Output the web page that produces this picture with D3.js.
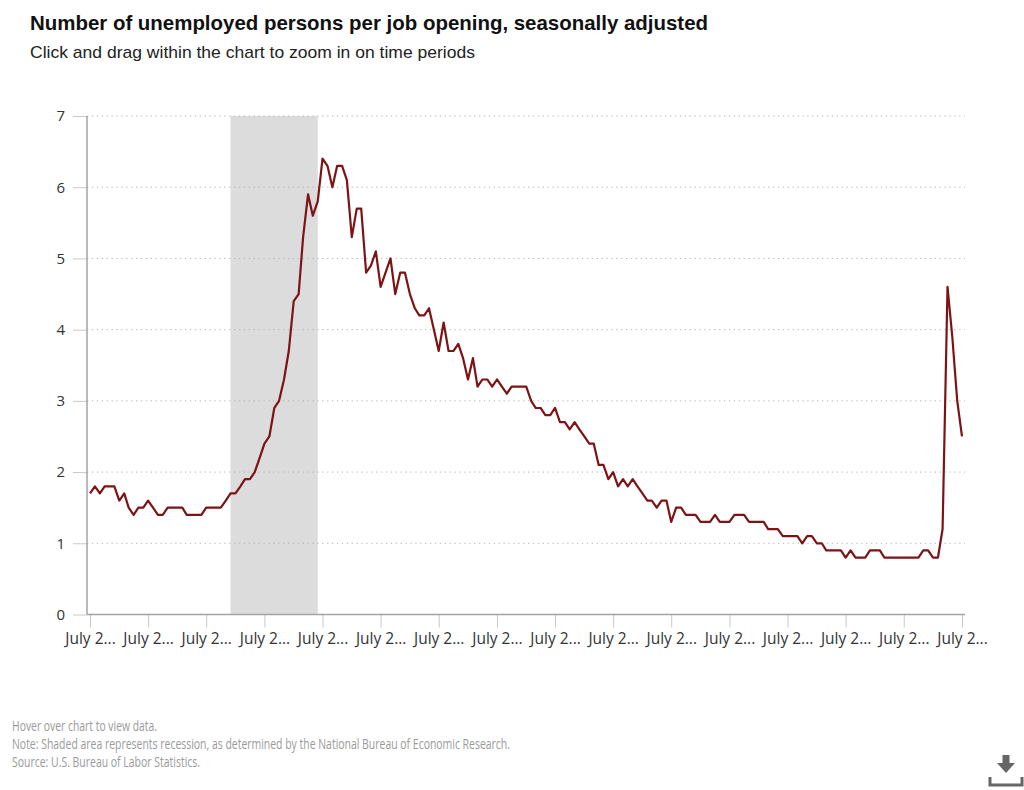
<!DOCTYPE html>
<html>
<head>
<meta charset="utf-8">
<script src="https://cdn.jsdelivr.net/npm/d3@7"></script>
<style>
  html, body { margin: 0; padding: 0; background: #fff; }
  svg { display: block; }
</style>
</head>
<body>
<svg id="chart" width="1024" height="790"></svg>
<script>
// ---- Data ----
const startMonth = "2005-07"; // first observation (monthly)
const ratioValues = [
  1.7,1.8,1.7,1.8,1.8,1.8,1.6,1.7,1.5,1.4,1.5,1.5,
  1.6,1.5,1.4,1.4,1.5,1.5,1.5,1.5,1.4,1.4,1.4,1.4,
  1.5,1.5,1.5,1.5,1.6,1.7,1.7,1.8,1.9,1.9,2.0,2.2,
  2.4,2.5,2.9,3.0,3.3,3.7,4.4,4.5,5.3,5.9,5.6,5.8,
  6.4,6.3,6.0,6.3,6.3,6.1,5.3,5.7,5.7,4.8,4.9,5.1,
  4.6,4.8,5.0,4.5,4.8,4.8,4.5,4.3,4.2,4.2,4.3,4.0,
  3.7,4.1,3.7,3.7,3.8,3.6,3.3,3.6,3.2,3.3,3.3,3.2,
  3.3,3.2,3.1,3.2,3.2,3.2,3.2,3.0,2.9,2.9,2.8,2.8,
  2.9,2.7,2.7,2.6,2.7,2.6,2.5,2.4,2.4,2.1,2.1,1.9,
  2.0,1.8,1.9,1.8,1.9,1.8,1.7,1.6,1.6,1.5,1.6,1.6,
  1.3,1.5,1.5,1.4,1.4,1.4,1.3,1.3,1.3,1.4,1.3,1.3,
  1.3,1.4,1.4,1.4,1.3,1.3,1.3,1.3,1.2,1.2,1.2,1.1,
  1.1,1.1,1.1,1.0,1.1,1.1,1.0,1.0,0.9,0.9,0.9,0.9,
  0.8,0.9,0.8,0.8,0.8,0.9,0.9,0.9,0.8,0.8,0.8,0.8,
  0.8,0.8,0.8,0.8,0.9,0.9,0.8,0.8,1.2,4.6,3.9,3.0,
  2.5
];
const recessionStart = "2007-12";
const recessionEnd = "2009-06";
const yTicks = [0,1,2,3,4,5,6,7];
const xTickYears = d3.range(2005, 2021);   // July of each year
const xTickLabel = "July 2...";
const titleText = "Number of unemployed persons per job opening, seasonally adjusted";
const subtitleText = "Click and drag within the chart to zoom in on time periods";
const footerLines = [
  "Hover over chart to view data.",
  "Note: Shaded area represents recession, as determined by the National Bureau of Economic Research.",
  "Source: U.S. Bureau of Labor Statistics."
];

// ---- Build ----
const parse = d3.timeParse("%Y-%m");
const t0 = parse(startMonth);
const series = ratioValues.map((v, i) => ({ date: d3.timeMonth.offset(t0, i), value: v }));
const tEnd = series[series.length - 1].date;

const svg = d3.select("#chart");
const plot = { left: 87, right: 965, top: 116, bottom: 614.5 };

const x = d3.scaleTime().domain([t0, tEnd]).range([90, 962]);
const y = d3.scaleLinear().domain([0, 7]).range([plot.bottom, plot.top]);

const axisColor = "#a3a3a3";
const labelFont = "'Open Sans', 'DejaVu Sans', sans-serif";

// Title
svg.append("text").attr("x", 30).attr("y", 30)
  .attr("font-family", "'Liberation Sans', Arial, sans-serif")
  .attr("font-size", 20.5).attr("font-weight", "bold").attr("fill", "#111")
  .attr("textLength", 678).attr("lengthAdjust", "spacingAndGlyphs")
  .text(titleText);
svg.append("text").attr("x", 30).attr("y", 58)
  .attr("font-family", "'Liberation Sans', Arial, sans-serif")
  .attr("font-size", 17).attr("fill", "#222")
  .attr("textLength", 445).attr("lengthAdjust", "spacingAndGlyphs")
  .text(subtitleText);

// Recession band
svg.append("rect")
  .attr("x", x(parse(recessionStart)))
  .attr("y", plot.top)
  .attr("width", x(parse(recessionEnd)) - x(parse(recessionStart)))
  .attr("height", plot.bottom - plot.top)
  .attr("fill", "#dcdcdc");

// Gridlines
svg.append("g").selectAll("line")
  .data(yTicks.filter(d => d > 0))
  .join("line")
  .attr("x1", plot.left).attr("x2", plot.right)
  .attr("y1", d => y(d)).attr("y2", d => y(d))
  .attr("stroke", "#b5b5b5").attr("stroke-width", 1)
  .attr("stroke-dasharray", "1.3,3.6");

// Y axis
const yAxis = d3.axisLeft(y).tickValues(yTicks).tickSize(14).tickPadding(8).tickFormat(d3.format("d"));
const gy = svg.append("g").attr("transform", `translate(${plot.left},0)`).call(yAxis);
gy.select(".domain").remove();
gy.selectAll(".tick line").attr("stroke", "#c8c8c8");
gy.selectAll(".tick text").attr("font-family", labelFont).attr("font-size", 15).attr("fill", "#333");
svg.append("line").attr("x1", plot.left).attr("x2", plot.left)
  .attr("y1", plot.top).attr("y2", plot.bottom)
  .attr("stroke", axisColor).attr("stroke-width", 1.5);

// X axis
const xTicks = xTickYears.map(yr => new Date(yr, 6, 1));
const xAxis = d3.axisBottom(x).tickValues(xTicks).tickSize(13).tickPadding(5).tickFormat(() => xTickLabel);
const gx = svg.append("g").attr("transform", `translate(0,${plot.bottom})`).call(xAxis);
gx.select(".domain").remove();
gx.selectAll(".tick line").attr("stroke", "#c8c8c8");
gx.selectAll(".tick text").attr("font-family", labelFont).attr("font-size", 15.5).attr("fill", "#333");
svg.append("line").attr("x1", plot.left).attr("x2", plot.right)
  .attr("y1", plot.bottom).attr("y2", plot.bottom)
  .attr("stroke", axisColor).attr("stroke-width", 1.5);

// Line
const line = d3.line().x(d => x(d.date)).y(d => y(d.value));
svg.append("path").datum(series)
  .attr("d", line)
  .attr("fill", "none")
  .attr("stroke", "#7d1315")
  .attr("stroke-width", 2.2)
  .attr("stroke-linejoin", "round");

// Footer (condensed look)
const footerLengths = [145, 498, 188];
svg.append("g").selectAll("text").data(footerLines).join("text")
  .attr("x", 12).attr("y", (d, i) => 731 + i * 18)
  .attr("font-family", "'Open Sans', sans-serif")
  .attr("font-size", 14.5).attr("fill", "#9a9a9a")
  .attr("textLength", (d, i) => footerLengths[i]).attr("lengthAdjust", "spacingAndGlyphs")
  .text(d => d);

// Download icon
const icon = svg.append("g").attr("transform", "translate(1006,770)").attr("fill", "#666");
icon.append("rect").attr("x", -3.5).attr("y", -15).attr("width", 7).attr("height", 8);
icon.append("path").attr("d", "M-9,-7 L9,-7 L0,3 Z");
icon.append("path").attr("d", "M-16,7 L-16,15 L16,15 L16,7")
  .attr("fill", "none").attr("stroke", "#666").attr("stroke-width", 3);
</script>
</body>
</html>
